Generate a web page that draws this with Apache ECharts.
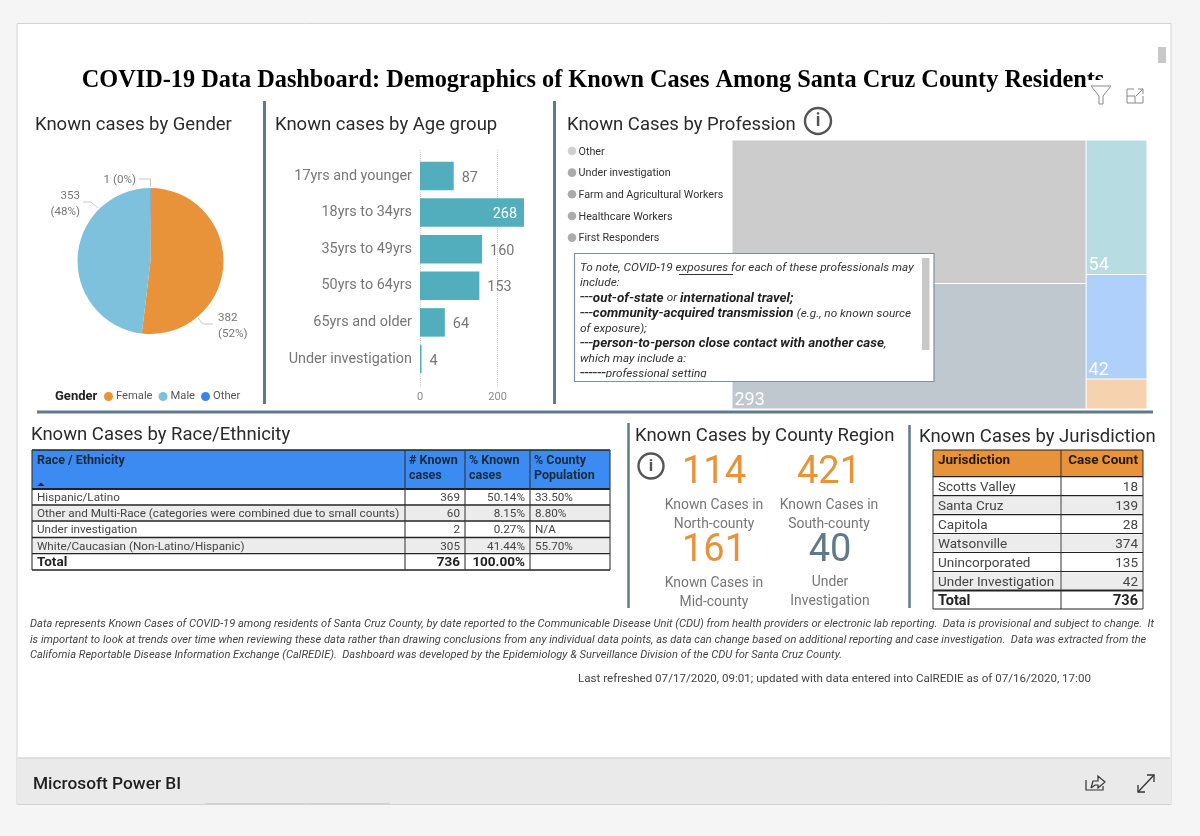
<!DOCTYPE html>
<html><head><meta charset="utf-8">
<style>html,body{margin:0;padding:0;background:#f5f5f5}#c{width:1200px;height:836px}</style>
<script src="https://cdn.jsdelivr.net/npm/echarts@6/dist/echarts.min.js"></script>
</head><body><div id="c"></div>
<script>
const pageTitle = 'COVID-19 Data Dashboard: Demographics of Known Cases Among Santa Cruz County Residents';
const genderNames = ['Female','Male','Other'];
const genderValues = [382,353,1];
const genderLabels = ['382\n(52%)','353\n(48%)','1 (0%)'];
const genderColors = ['#e8923a','#7ec1dd','#3b82f0'];
const ageGroups = ['17yrs and younger','18yrs to 34yrs','35yrs to 49yrs','50yrs to 64yrs','65yrs and older','Under investigation'];
const ageValues = [87,268,160,153,64,4];
const professions = ['Other','Under investigation','Farm and Agricultural Workers','Healthcare Workers','First Responders'];
const professionValues = [335,293,54,42,12];
const professionColors = ['#cccccc','#bfc7cf','#b7dde3','#afd0fb','#f6d3ae'];
const professionLegendColors = ['#cfcfcf','#ababab','#ababab','#ababab','#ababab'];
const raceHeader = [['Race / Ethnicity'],['# Known','cases'],['% Known','cases'],['% County','Population']];
const raceRows = [
 ['Hispanic/Latino','369','50.14%','33.50%'],
 ['Other and Multi-Race (categories were combined due to small counts)','60','8.15%','8.80%'],
 ['Under investigation','2','0.27%','N/A'],
 ['White/Caucasian (Non-Latino/Hispanic)','305','41.44%','55.70%']];
const raceTotal = ['Total','736','100.00%',''];
const regionKpis = [['114','Known Cases in','North-county'],['421','Known Cases in','South-county'],['161','Known Cases in','Mid-county'],['40','Under','Investigation']];
const jurisdictionHeader = ['Jurisdiction','Case Count'];
const jurisdictionRows = [['Scotts Valley','18'],['Santa Cruz','139'],['Capitola','28'],['Watsonville','374'],['Unincorporated','135'],['Under Investigation','42']];
const jurisdictionTotal = ['Total','736'];
const footnotes = [
 'Data represents Known Cases of COVID-19 among residents of Santa Cruz County, by date reported to the Communicable Disease Unit (CDU) from health providers or electronic lab reporting.  Data is provisional and subject to change.  It',
 'is important to look at trends over time when reviewing these data rather than drawing conclusions from any individual data points, as data can change based on additional reporting and case investigation.  Data was extracted from the',
 'California Reportable Disease Information Exchange (CalREDIE).  Dashboard was developed by the Epidemiology & Surveillance Division of the CDU for Santa Cruz County.'];
const refreshed = 'Last refreshed 07/17/2020, 09:01; updated with data entered into CalREDIE as of 07/16/2020, 17:00';

const F = 'Roboto,"Noto Sans",sans-serif';
const RULE = '#5f7a8c', GREY = '#777777', DARK = '#222222', Z = 100;
const g = [];
const rect = (x,y,w,h,fill,stroke,lw) => g.push({type:'rect',z:Z,silent:true,shape:{x,y,width:w,height:h},style:{fill:fill||'none',stroke:stroke||'none',lineWidth:lw||1}});
const line = (x1,y1,x2,y2,c,lw) => g.push({type:'line',z:Z,silent:true,shape:{x1,y1,x2,y2},style:{stroke:c,lineWidth:lw||1}});
const poly = (pts,c,lw) => g.push({type:'polyline',z:Z,silent:true,shape:{points:pts},style:{stroke:c,lineWidth:lw||1,fill:'none'}});
const text = (x,y,t,o) => { o=o||{}; g.push({type:'text',z:Z,silent:true,x,y,style:{text:t,fill:o.c||GREY,font:(o.st||'normal')+' '+(o.w||'normal')+' '+(o.s||14)+'px '+(o.f||F),textAlign:o.a||'left',textVerticalAlign:'middle',rich:o.rich}}); };
const info = (x,y,r) => { g.push({type:'circle',z:Z,silent:true,shape:{cx:x,cy:y,r},style:{fill:'#fff',stroke:'#555',lineWidth:2.4}}); text(x,y+1,'i',{s:r*1.35,c:'#555',a:'center',w:'bold'}); };

// card frame
rect(0,0,1200,23,'#f5f5f5'); rect(0,0,17,836,'#f5f5f5'); rect(1171,0,29,836,'#f5f5f5'); rect(0,805,1200,31,'#f5f5f5');
rect(17,23.5,1154,781,'none','#d4d4d4',1);
rect(18,758,1152,46,'#eaeaea'); line(18,758,1170,758,'#d8d8d8',1.5); line(205,803.5,390,803.5,'#d2d2d2',1);
text(33,784.5,'Microsoft Power BI',{s:17.3,c:'#1f1f1f',w:500});
rect(1158,47,8,16,'#c8c8c8');

// page title and panel headers
text(593,81,pageTitle,{s:24.3,c:'#000',w:'bold',a:'center',f:'"Liberation Serif",serif'});
rect(1088,80,62,30,'#ffffff');
g.push({type:'polygon',z:Z,silent:true,shape:{points:[[1091,86],[1111,86],[1103,96],[1103,104],[1099,104],[1099,96]]},style:{fill:'#fff',stroke:'#888',lineWidth:1}});
poly([[1134,89],[1127,89],[1127,103],[1143,103],[1143,96]],'#888',1); poly([[1127,96],[1135,96],[1135,103]],'#888',1); poly([[1136,96],[1143,89]],'#888',1); poly([[1138,89],[1143,89],[1143,94]],'#888',1);
poly([[1086,780],[1086,790],[1103,790],[1103,786]],'#333',1.2); poly([[1091,788],[1093,781],[1098,781],[1098,776],[1105,782],[1098,788],[1098,785],[1095,785],[1091,788]],'#333',1.2);
line(1138,792,1154,775,'#333',1.3); poly([[1147,775],[1154,775],[1154,782]],'#333',1.3); poly([[1138,785],[1138,792],[1145,792]],'#333',1.3);

[[35,125.5,'Known cases by Gender'],[275,125.5,'Known cases by Age group'],[567,125.5,'Known Cases by Profession'],[31,435.5,'Known Cases by Race/Ethnicity'],[635,436.5,'Known Cases by County Region'],[919,437.5,'Known Cases by Jurisdiction']]
 .forEach(a=>text(a[0],a[1],a[2],{s:18.5,c:'#2b2b2b'}));
line(264.5,101,264.5,404,RULE,3); line(554.5,101,554.5,404,RULE,3); line(37,412,1153,412,RULE,3); line(628.5,423,628.5,608,RULE,2.5); line(909.5,425,909.5,608,RULE,2.5);
info(818,121,13); info(651,466,12.5);

// gender extras
text(55,397,'Gender',{s:13,c:'#222',w:'bold'});
poly([[139,179],[150.5,179],[150.5,187]],'#c8c8c8');
poly([[83,202],[91,202],[98,208]],'#c8c8c8');
poly([[198,318],[203,324],[213,324]],'#c8c8c8');

// profession legend
professions.forEach((p,i)=>{ const y=151+i*21.65;
 g.push({type:'circle',z:Z,silent:true,shape:{cx:572,cy:y,r:4.3},style:{fill:professionLegendColors[i]}});
 text(578.5,y+1,p,{s:10.75,c:'#333'}); });

// note box
rect(574.5,253.5,359.5,128,'#ffffff');
const I={font:'italic 11.8px '+F,fill:'#333'}, B={font:'italic bold 13.4px '+F,fill:'#222'}, H={font:'italic 16px '+F,fill:'#333'};
const noteLines=['{i|To note, COVID-19 exposures for each of these professionals may}','{i|include:}','{h|---}{b|out-of-state }{i|or }{b|international travel;}','{h|---}{b|community-acquired transmission }{i|(e.g., no known source}','{i|of exposure);}','{h|---}{b|person-to-person close contact with another case}{i|,}','{i|which may include a:}','{h|------}{i|professional setting}'];
noteLines.forEach((t,i)=>text(580,268+i*15.2,t,{s:12,rich:{i:I,b:B,h:H}}));
line(679,274.5,733,274.5,'#333',1);
rect(575,377.5,358.5,4,'#ffffff');
rect(574.5,253.5,359.5,128,'none','#7f8fa0',1.2);
rect(922,258,7.5,92,'#c8c8c8');

// race table
const rX=[32,405,465,530,610], rY=[489,505,521,537.5,553.7,570];
rect(32,450,578,39,'#3b8bf2');
raceHeader.forEach((h,i)=>h.forEach((t,j)=>text(rX[i]+(i?4:5),460.5+j*15.5,t,{s:12.5,w:'bold',c:'#1a2a3a'})));
g.push({type:'polygon',z:Z,silent:true,shape:{points:[[37.5,486],[44.5,486],[41,482.5]]},style:{fill:'#222'}});
const raceAll = raceRows.concat([raceTotal]);
raceAll.forEach((r,i)=>{ const cy=(rY[i]+rY[i+1])/2+1, bold=i===raceRows.length;
 if(i%2===1&&!bold) rect(33,rY[i]+1,371,rY[i+1]-rY[i]-2,'#ececec'), rect(406,rY[i]+1,58,rY[i+1]-rY[i]-2,'#ececec'), rect(466,rY[i]+1,63,rY[i+1]-rY[i]-2,'#ececec'), rect(531,rY[i]+1,78,rY[i+1]-rY[i]-2,'#ececec');
 const o=bold?{s:13.5,w:'bold',c:'#222'}:{s:11.7,c:'#444'};
 text(37,cy,r[0],o);
 text(460,cy,r[1],{...o,a:'right'}); text(525,cy,r[2],{...o,a:'right'}); text(535,cy,r[3],o);
 });
rY.forEach((y,i)=>line(32,y,610,y,'#222',i===0?2:1.3));
line(32,450,610,450,'#222',1.4);
rX.forEach(x=>line(x,450,x,570,'#333',1.1));

// KPI cards
[[714,473,506,'#e8923a'],[829,473,506,'#e8923a'],[714,551,584,'#e8923a'],[830,551,583,RULE]].forEach((k,i)=>{
 const d=regionKpis[i];
 text(k[0],k[1],d[0],{s:38,c:k[3],a:'center'});
 text(k[0],k[2],d[1],{s:13.9,a:'center'}); text(k[0],k[2]+19,d[2],{s:13.9,a:'center'});
});

// jurisdiction table
const jX=[933,1061,1143], jY=[476.7,495.7,514.7,533.5,552.5,571.5,590.5,609];
rect(933,450,210,26.7,'#e8923a');
text(938,461,jurisdictionHeader[0],{s:13.5,w:'bold',c:'#1f1a10'}); text(1138,461,jurisdictionHeader[1],{s:13.5,w:'bold',c:'#1f1a10',a:'right'});
jurisdictionRows.concat([jurisdictionTotal]).forEach((r,i)=>{ const cy=(jY[i]+jY[i+1])/2+1.5, bold=i===jurisdictionRows.length;
 if(i%2===1&&!bold){rect(934,jY[i]+1,126,17,'#ececec'); rect(1062,jY[i]+1,80,17,'#ececec');}
 const o=bold?{s:14.5,w:'bold',c:'#222'}:{s:13.5,c:'#444'};
 text(938,cy,r[0],o); text(1138,cy,r[1],{...o,a:'right'});
});
jY.forEach((y,i)=>line(933,y,1143,y,'#222',i===6?1.8:1.2));
line(933,450,1143,450,'#222',1.2);
jX.forEach(x=>line(x,450,x,609,'#333',1));

// notes
footnotes.forEach((t,i)=>text(30,624.5+i*15.5,t,{s:11.1,st:'italic',c:'#444'}));
text(578,679.5,refreshed,{s:11.6,c:'#444'});

const chart = echarts.init(document.getElementById('c'));
chart.setOption({
 animation:false, backgroundColor:'#ffffff',
 legend:{left:104,top:391,itemWidth:9,itemHeight:9,itemGap:6,icon:'circle',selectedMode:false,padding:0,data:genderNames,textStyle:{fontFamily:F,fontSize:11.2,color:'#555',padding:[1,0,0,-2]}},
 grid:[{left:420,top:157.7,width:116.4,height:219.6},{left:420,top:150,width:116.4,height:238}],
 xAxis:[
  {gridIndex:0,type:'value',min:0,max:300,show:false},
  {gridIndex:1,type:'value',min:0,max:300,interval:200,axisLine:{show:false},axisTick:{show:false},
   axisLabel:{color:'#888',fontSize:11,fontFamily:F,margin:4,showMaxLabel:false},
   splitLine:{show:true,showMaxLine:false,lineStyle:{type:'dotted',color:'#cfcfcf'}}}],
 yAxis:[
  {gridIndex:0,type:'category',inverse:true,data:ageGroups,axisLine:{show:false},axisTick:{show:false},
   axisLabel:{color:GREY,fontSize:14.4,fontFamily:F,margin:8,padding:[3,0,0,0]}},
  {gridIndex:1,type:'category',data:[],show:false}],
 series:[
  {type:'pie',center:[150.5,261],radius:[0,73],startAngle:90,silent:true,avoidLabelOverlap:false,
   data:genderNames.map((n,i)=>({name:n,value:genderValues[i],itemStyle:{color:genderColors[i]},label:{formatter:genderLabels[i]}})),
   label:{color:GREY,fontSize:11.6,lineHeight:16,fontFamily:F},labelLine:{show:false},
   labelLayout:p=>[{x:218,y:326,align:'left',verticalAlign:'middle'},{x:80,y:204,align:'right',verticalAlign:'middle'},{x:136,y:180,align:'right',verticalAlign:'middle'}][p.dataIndex]},
  {type:'bar',xAxisIndex:0,yAxisIndex:0,barWidth:28.5,silent:true,
   itemStyle:{color:'#52aebc'},
   data:ageValues.map((v,i)=>({value:v,label:v>200?{position:'insideRight',color:'#fff',distance:7}:{}})),
   label:{show:true,position:'right',distance:8,fontSize:14.4,color:GREY,fontFamily:F,offset:[0,2]}},
  {type:'treemap',left:732.5,top:140.5,width:414,height:268,roam:false,nodeClick:false,breadcrumb:{show:false},silent:true,
   itemStyle:{gapWidth:1,borderWidth:0},
   label:{show:true,position:'insideBottomLeft',color:'#fff',fontSize:18,fontFamily:F,formatter:'{c}',offset:[-3,5.5]},
   data:professions.map((n,i)=>({name:n,value:professionValues[i],itemStyle:{color:professionColors[i]},label:i===4?{show:false}:{}}))}
 ],
 graphic:{elements:g}
});
</script></body></html>
